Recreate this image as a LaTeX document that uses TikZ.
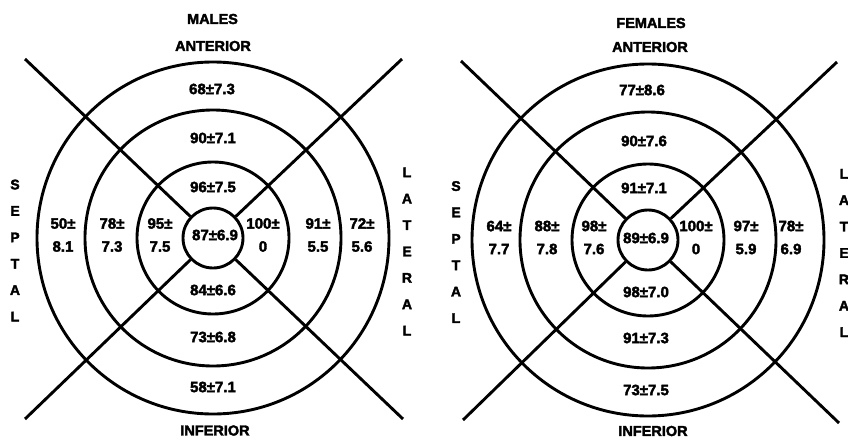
\documentclass[tikz,border=0pt]{standalone}
\usepackage{fontspec}
\setmainfont{Liberation Sans}[BoldFeatures={FakeBold=2.4}]
\begin{document}
\begin{tikzpicture}[x=1pt,y=-1pt,
  ring/.style={circle,draw,line width=2.9pt,inner sep=0pt},
  spoke/.style={line width=2.9pt},
  val/.style={font=\bfseries\fontsize{15}{15}\selectfont,inner sep=0pt},
  side/.style={font=\bfseries\fontsize{15}{23}\selectfont,align=center,inner sep=0pt},
  vert/.style={font=\bfseries\fontsize{14}{26.4}\selectfont,align=center,inner sep=0pt},
  ttl/.style={font=\bfseries\fontsize{14.5}{14.5}\selectfont,inner sep=0pt}]
\useasboundingbox (0,0) rectangle (848,439);
% ---------- MALES ----------
\coordinate (Lc) at (213,238);
\node[ring,minimum size=352pt] (L4) at (Lc) {};
\node[ring,minimum size=256pt] (L3) at (Lc) {};
\node[ring,minimum size=152pt] (L2) at (Lc) {};
\node[ring,minimum size=60pt] (L1) at (Lc) {};
\coordinate (Ltl) at (25,59);
\coordinate (Ltr) at (402,59);
\coordinate (Lbl) at (25,419);
\coordinate (Lbr) at (403,419);
\draw[spoke] (L1) -- (Ltl);
\draw[spoke] (L1) -- (Ltr);
\draw[spoke] (L1) -- (Lbl);
\draw[spoke] (L1) -- (Lbr);
\node[ttl] (Ltitle) at (212.5,19) {MALES};
\node[ttl] (Lant) at (213,46) {ANTERIOR};
\node[ttl] (Linf) at (215,430.5) {INFERIOR};
\node[vert] (Lsep) at (15,250.5) {S\\E\\P\\T\\A\\L};
\node[vert] (Llat) at (407,251.5) {L\\A\\T\\E\\R\\A\\L};
\node[val] (La1) at (212,89) {68±7.3};
\node[val] (La2) at (213,138) {90±7.1};
\node[val] (La3) at (213,187) {96±7.5};
\node[val] (Lmid) at (215,235) {87±6.9};
\node[val] (Li3) at (213,290) {84±6.6};
\node[val] (Li2) at (213,337) {73±6.8};
\node[val] (Li1) at (213,387) {58±7.1};
\node[side] (Ls1) at (63,235) {50±\\8.1};
\node[side] (Ls2) at (112,235) {78±\\7.3};
\node[side] (Ls3) at (160,235) {95±\\7.5};
\node[side] (Ll3) at (263,235) {100±\\0};
\node[side] (Ll2) at (318,235) {91±\\5.5};
\node[side] (Ll1) at (362,235) {72±\\5.6};
% ---------- FEMALES ----------
\coordinate (Rc) at (648,240);
\node[ring,minimum size=352pt] (R4) at (Rc) {};
\node[ring,minimum size=256pt] (R3) at (Rc) {};
\node[ring,minimum size=152pt] (R2) at (Rc) {};
\node[ring,minimum size=60pt] (R1) at (Rc) {};
\coordinate (Rtl) at (461,61);
\coordinate (Rtr) at (837,62);
\coordinate (Rbl) at (463,420);
\coordinate (Rbr) at (839,423);
\draw[spoke] (R1) -- (Rtl);
\draw[spoke] (R1) -- (Rtr);
\draw[spoke] (R1) -- (Rbl);
\draw[spoke] (R1) -- (Rbr);
\node[ttl] (Rtitle) at (651,23) {FEMALES};
\node[ttl] (Rant) at (650,47) {ANTERIOR};
\node[ttl] (Rinf) at (653,431) {INFERIOR};
\node[vert] (Rsep) at (456,252) {S\\E\\P\\T\\A\\L};
\node[vert] (Rlat) at (844,253) {L\\A\\T\\E\\R\\A\\L};
\node[val] (Ra1) at (642,90) {77±8.6};
\node[val] (Ra2) at (644,141) {90±7.6};
\node[val] (Ra3) at (644,188) {91±7.1};
\node[val] (Rmid) at (646,238) {89±6.9};
\node[val] (Ri3) at (646,292) {98±7.0};
\node[val] (Ri2) at (646,338) {91±7.3};
\node[val] (Ri1) at (646,390) {73±7.5};
\node[side] (Rs1) at (499,237.5) {64±\\7.7};
\node[side] (Rs2) at (547,237.5) {88±\\7.8};
\node[side] (Rs3) at (594,237.5) {98±\\7.6};
\node[side] (Rl3) at (696,237.5) {100±\\0};
\node[side] (Rl2) at (746,237.5) {97±\\5.9};
\node[side] (Rl1) at (791,237.5) {78±\\6.9};
\end{tikzpicture}
\end{document}
